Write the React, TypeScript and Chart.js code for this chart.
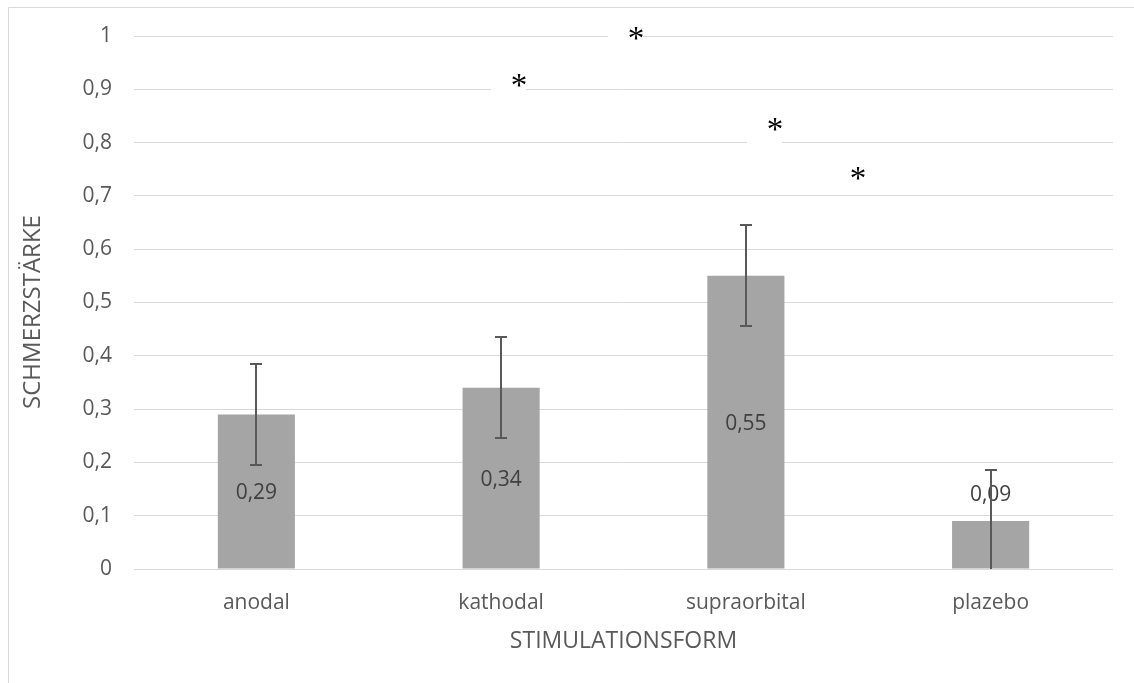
import React, { useEffect, useRef } from "react";
import { Chart, registerables } from "chart.js";

Chart.register(...registerables);

// ---- data ----
const categories = ["anodal", "kathodal", "supraorbital", "plazebo"];
const meanValues = [0.29, 0.34, 0.55, 0.09];
const errorValues = [0.095, 0.095, 0.095, 0.095];
const yTitle = "SCHMERZSTÄRKE";
const xTitle = "STIMULATIONSFORM";
// significance markers (category-index position, value position)
const starCategoryPos = [1.551, 1.073, 2.119, 2.458];
const starValues = [1.006, 0.917, 0.835, 0.743];
const starText = ["*", "*", "*", "*"];

const TICK_FONT = "'Open Sans', 'Noto Sans', sans-serif";

function fmt(v: number): string {
  return String(Number(v.toFixed(2))).replace(".", ",");
}

const overlayPlugin = {
  id: "overlay",
  afterDatasetsDraw(chart: any) {
    const ctx = chart.ctx as CanvasRenderingContext2D;
    const meta = chart.getDatasetMeta(0);
    const y = chart.scales.y;
    ctx.save();
    // data labels
    ctx.font = `21px ${TICK_FONT}`;
    ctx.fillStyle = "#404040";
    ctx.textAlign = "center";
    ctx.textBaseline = "middle";
    meta.data.forEach((bar: any, i: number) => {
      const top = bar.y;
      const base = bar.base;
      let ly = (top + base) / 2 + 2;
      if (base - top < 60) ly = top - 26;
      ctx.fillText(fmt(meanValues[i]), bar.x, ly);
    });
    // error bars
    ctx.strokeStyle = "#595959";
    ctx.lineWidth = 2;
    meta.data.forEach((bar: any, i: number) => {
      const lo = meanValues[i] - errorValues[i];
      const yt = Math.round(y.getPixelForValue(meanValues[i] + errorValues[i]));
      const yb = Math.round(y.getPixelForValue(Math.max(0, lo)));
      const x = Math.round(bar.x);
      ctx.beginPath();
      ctx.moveTo(x, yt);
      ctx.lineTo(x, yb);
      ctx.moveTo(x - 6, yt);
      ctx.lineTo(x + 6, yt);
      if (lo > 0) {
        ctx.moveTo(x - 6, yb);
        ctx.lineTo(x + 6, yb);
      }
      ctx.stroke();
    });
    ctx.restore();
  },
  afterDraw(chart: any) {
    const ctx = chart.ctx as CanvasRenderingContext2D;
    const ys = chart.scales.y;
    const area = chart.chartArea;
    ctx.save();
    // outer frame (top and left visible)
    ctx.strokeStyle = "#d9d9d9";
    ctx.lineWidth = 1;
    ctx.beginPath();
    ctx.moveTo(8.5, chart.height);
    ctx.lineTo(8.5, 7.5);
    ctx.lineTo(chart.width, 7.5);
    ctx.stroke();

    // significance stars with white text-box background
    const catW = (area.right - area.left) / categories.length;
    starCategoryPos.forEach((c, i) => {
      const px = area.left + (c + 0.5) * catW;
      const py = ys.getPixelForValue(starValues[i]);
      ctx.fillStyle = "#ffffff";
      ctx.fillRect(px - 28, py - 12, 35, 33);
      ctx.fillStyle = "#000000";
      ctx.font = "33px 'Liberation Serif', 'DejaVu Serif', serif";
      ctx.textAlign = "center";
      ctx.textBaseline = "alphabetic";
      ctx.fillText(starText[i], px, py + 16);
    });

    // y axis title
    ctx.fillStyle = "#595959";
    ctx.font = `24px ${TICK_FONT}`;
    ctx.textAlign = "center";
    ctx.textBaseline = "middle";
    ctx.translate(33, 312);
    ctx.rotate(-Math.PI / 2);
    ctx.fillText(yTitle, 0, 0);
    ctx.restore();
  },
};

export default function App() {
  const ref = useRef<HTMLCanvasElement | null>(null);
  useEffect(() => {
    if (!ref.current) return;
    const chart = new Chart(ref.current, {
      type: "bar",
      data: {
        labels: categories,
        datasets: [
          {
            data: meanValues,
            backgroundColor: "#a5a5a5",
            borderWidth: 0,
            barPercentage: 0.315,
            categoryPercentage: 1,
          },
        ],
      },
      options: {
        responsive: false,
        animation: false,
        layout: { padding: { top: 36, right: 21, left: 0, bottom: 0 } },
        plugins: {
          legend: { display: false },
          tooltip: { enabled: false },
        },
        scales: {
          x: {
            grid: { display: false },
            border: { display: false },
            ticks: {
              color: "#595959",
              font: { family: TICK_FONT, size: 21 },
              padding: 13,
              maxRotation: 0,
            },
            title: {
              display: true,
              text: xTitle,
              color: "#595959",
              font: { family: TICK_FONT, size: 23 },
              padding: { top: 0, bottom: 28 },
            },
            afterFit: (s: any) => {
              s.height = 114;
            },
          },
          y: {
            min: 0,
            max: 1,
            grid: { color: "#d9d9d9", lineWidth: 1, drawTicks: false },
            border: { display: false },
            ticks: {
              stepSize: 0.1,
              color: "#595959",
              font: { family: TICK_FONT, size: 21 },
              padding: 22,
              callback: (v: any) => fmt(Number(v)),
            },
            afterFit: (s: any) => {
              s.width = 134;
            },
          },
        },
      },
      plugins: [overlayPlugin],
    });
    return () => chart.destroy();
  }, []);
  return (
    <div style={{ position: "fixed", left: 0, top: 0, width: 1134, height: 683, background: "#fff" }}>
      <canvas ref={ref} width={1134} height={683} style={{ display: "block" }} />
    </div>
  );
}
